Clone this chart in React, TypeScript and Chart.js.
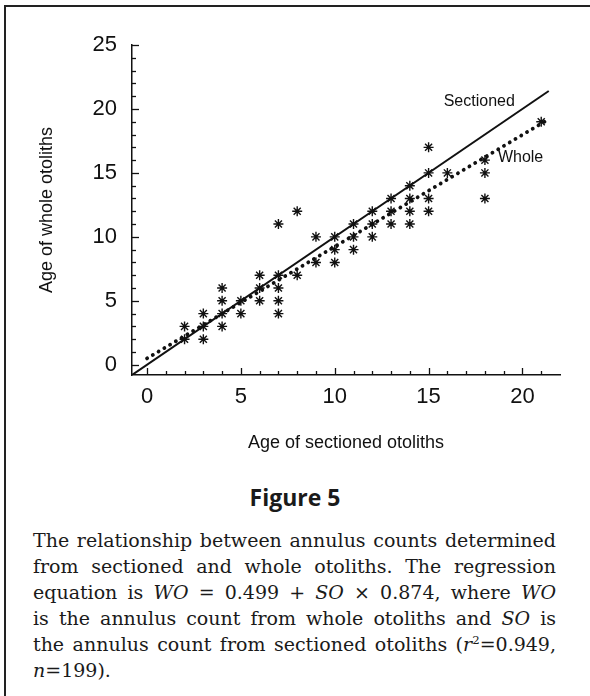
import React, { useEffect, useRef } from "react";
import { Chart, registerables } from "chart.js";

Chart.register(...registerables);

// Observed annulus counts (each asterisk in the figure)
const SECTIONED_AGE = [2, 2, 3, 3, 3, 4, 4, 4, 4, 5, 5, 6, 6, 6, 7, 7, 7, 7, 7, 8, 8, 9, 9, 10, 10, 10, 11, 11, 11, 12, 12, 12, 13, 13, 13, 14, 14, 14, 14, 15, 15, 15, 15, 16, 18, 18, 18, 21];
const WHOLE_AGE = [3, 2, 4, 3, 2, 6, 5, 4, 3, 5, 4, 7, 6, 5, 11, 7, 6, 5, 4, 12, 7, 10, 8, 10, 9, 8, 11, 10, 9, 12, 11, 10, 13, 12, 11, 14, 13, 12, 11, 17, 15, 13, 12, 15, 16, 15, 13, 19];

// Lines: 1:1 "Sectioned" line and regression "Whole" line (WO = 0.499 + SO x 0.874)
const SECTIONED_LINE_X = [-0.8, 21.4];
const WHOLE_LINE_X = [0, 21.3];
const REG_INTERCEPT = 0.499;
const REG_SLOPE = 0.874;

// Axes
const X_MIN = -0.8;
const X_MAX = 22;
const Y_MIN = -0.8;
const Y_MAX = 25;
const X_TICKS = [0, 5, 10, 15, 20];
const Y_TICKS = [0, 5, 10, 15, 20, 25];
const X_MINOR_LAST = 21;
const Y_MINOR_LAST = 25;

// Line labels (data coordinates)
const SECTIONED_LABEL = { text: "Sectioned", x: 17.7, y: 20.6 };
const WHOLE_LABEL = { text: "Whole", x: 19.9, y: 16.2 };

const SANS = '"Liberation Sans", Arial, Helvetica, sans-serif';
const INK = "#111111";

const inwardTicks = {
  id: "inwardTicks",
  afterDraw(chart: any) {
    const { ctx, chartArea, scales } = chart;
    const xs = scales.x;
    const ys = scales.y;
    ctx.save();
    ctx.strokeStyle = INK;
    ctx.lineWidth = 1.3;
    for (let v = 0; v <= X_MINOR_LAST; v++) {
      const px = Math.round(xs.getPixelForValue(v)) + 0.5;
      const len = v % 5 === 0 ? 7 : 4;
      ctx.beginPath();
      ctx.moveTo(px, chartArea.bottom);
      ctx.lineTo(px, chartArea.bottom - len);
      ctx.stroke();
    }
    for (let v = 0; v <= Y_MINOR_LAST; v++) {
      const py = Math.round(ys.getPixelForValue(v)) + 0.5;
      const len = v % 5 === 0 ? 7 : 4;
      ctx.beginPath();
      ctx.moveTo(chartArea.left, py);
      ctx.lineTo(chartArea.left + len, py);
      ctx.stroke();
    }
    ctx.fillStyle = INK;
    ctx.font = `16px ${SANS}`;
    ctx.textAlign = "center";
    ctx.textBaseline = "middle";
    for (const lab of [SECTIONED_LABEL, WHOLE_LABEL]) {
      ctx.fillText(lab.text, xs.getPixelForValue(lab.x), ys.getPixelForValue(lab.y));
    }
    ctx.restore();
  },
};

function ChartCanvas() {
  const ref = useRef<HTMLCanvasElement | null>(null);
  useEffect(() => {
    if (!ref.current) return;
    const points = SECTIONED_AGE.map((x, i) => ({ x, y: WHOLE_AGE[i] }));
    const sectioned = SECTIONED_LINE_X.map((x) => ({ x, y: x }));
    const whole = WHOLE_LINE_X.map((x) => ({ x, y: REG_INTERCEPT + REG_SLOPE * x }));
    const chart = new Chart(ref.current, {
      type: "scatter",
      data: {
        datasets: [
          {
            label: "Observed",
            data: points,
            pointStyle: "star",
            pointRadius: 5,
            pointHoverRadius: 5,
            pointBorderWidth: 1.4,
            borderColor: INK,
            backgroundColor: INK,
            showLine: false,
          } as any,
          {
            label: "Sectioned",
            data: sectioned,
            showLine: true,
            borderColor: INK,
            borderWidth: 2,
            pointRadius: 0,
            fill: false,
          } as any,
          {
            label: "Whole",
            data: whole,
            showLine: true,
            borderColor: INK,
            borderWidth: 3.8,
            borderDash: [0.1, 6.6],
            borderCapStyle: "round",
            pointRadius: 0,
            fill: false,
          } as any,
        ],
      },
      options: {
        responsive: false,
        maintainAspectRatio: false,
        animation: false,
        layout: { padding: { left: 36, top: 45, right: 30, bottom: 0 } },
        plugins: {
          legend: { display: false },
          tooltip: { enabled: false },
        },
        scales: {
          x: {
            type: "linear",
            min: X_MIN,
            max: X_MAX,
            afterBuildTicks: (scale: any) => {
              scale.ticks = X_TICKS.map((v) => ({ value: v }));
            },
            afterFit: (scale: any) => {
              scale.height = 85;
            },
            grid: { display: true, drawOnChartArea: false, drawTicks: false },
            border: { display: true, color: INK, width: 1.5 },
            ticks: {
              color: INK,
              padding: 9,
              autoSkip: false,
              maxRotation: 0,
              font: { family: SANS, size: 22 },
            },
            title: {
              display: true,
              text: "Age of sectioned otoliths",
              color: INK,
              font: { family: SANS, size: 18 },
              padding: { top: 0, bottom: 6 },
            },
          },
          y: {
            type: "linear",
            min: Y_MIN,
            max: Y_MAX,
            afterBuildTicks: (scale: any) => {
              scale.ticks = Y_TICKS.map((v) => ({ value: v }));
            },
            afterFit: (scale: any) => {
              scale.width = 96;
            },
            grid: { display: true, drawOnChartArea: false, drawTicks: false },
            border: { display: true, color: INK, width: 1.5 },
            ticks: {
              color: INK,
              padding: 15,
              autoSkip: false,
              font: { family: SANS, size: 22 },
            },
            title: {
              display: true,
              text: "Age of whole otoliths",
              color: INK,
              font: { family: SANS, size: 18 },
              padding: { top: 0, bottom: 0 },
            },
          },
        },
      },
      plugins: [inwardTicks],
    } as any);
    return () => chart.destroy();
  }, []);
  return <canvas ref={ref} width={590} height={460} style={{ position: "absolute", left: 0, top: 0, width: 590, height: 460 }} />;
}

const SERIF = '"DejaVu Serif", "Liberation Serif", serif';

function Line({ children, last }: { children: React.ReactNode; last?: boolean }) {
  return (
    <div
      style={{
        height: 26,
        lineHeight: "26px",
        whiteSpace: "nowrap",
        textAlign: last ? "left" : "justify",
        textAlignLast: last ? "left" : "justify",
      } as any}
    >
      {children}
    </div>
  );
}

export default function App() {
  return (
    <div style={{ position: "absolute", left: 0, top: 0, width: 590, height: 696, overflow: "hidden", background: "#fff" }}>
      <div
        style={{
          position: "absolute",
          left: 4,
          top: 5,
          width: 700,
          height: 800,
          borderLeft: "2px solid #222",
          borderTop: "2px solid #222",
        }}
      />
      <ChartCanvas />
      <div
        style={{
          position: "absolute",
          left: 0,
          top: 480,
          width: 590,
          textAlign: "center",
          fontFamily: '"Open Sans", sans-serif',
          fontWeight: 700,
          fontSize: 23,
          lineHeight: "34px",
          color: "#1a1a1a",
        }}
      >
        Figure 5
      </div>
      <div
        style={{
          position: "absolute",
          left: 33,
          top: 527,
          width: 523,
          fontFamily: SERIF,
          fontSize: 19,
          color: "#1a1a1a",
        }}
      >
        <Line>The relationship between annulus counts determined</Line>
        <Line>from sectioned and whole otoliths. The regression</Line>
        <Line>
          equation is <i>WO</i> = 0.499 + <i>SO</i> × 0.874, where <i>WO</i>
        </Line>
        <Line>
          is the annulus count from whole otoliths and <i>SO</i> is
        </Line>
        <Line>
          the annulus count from sectioned otoliths (<i>r</i>
          <sup style={{ fontSize: "0.62em", lineHeight: 0 }}>2</sup>=0.949,
        </Line>
        <Line last>
          <i>n</i>=199).
        </Line>
      </div>
    </div>
  );
}
